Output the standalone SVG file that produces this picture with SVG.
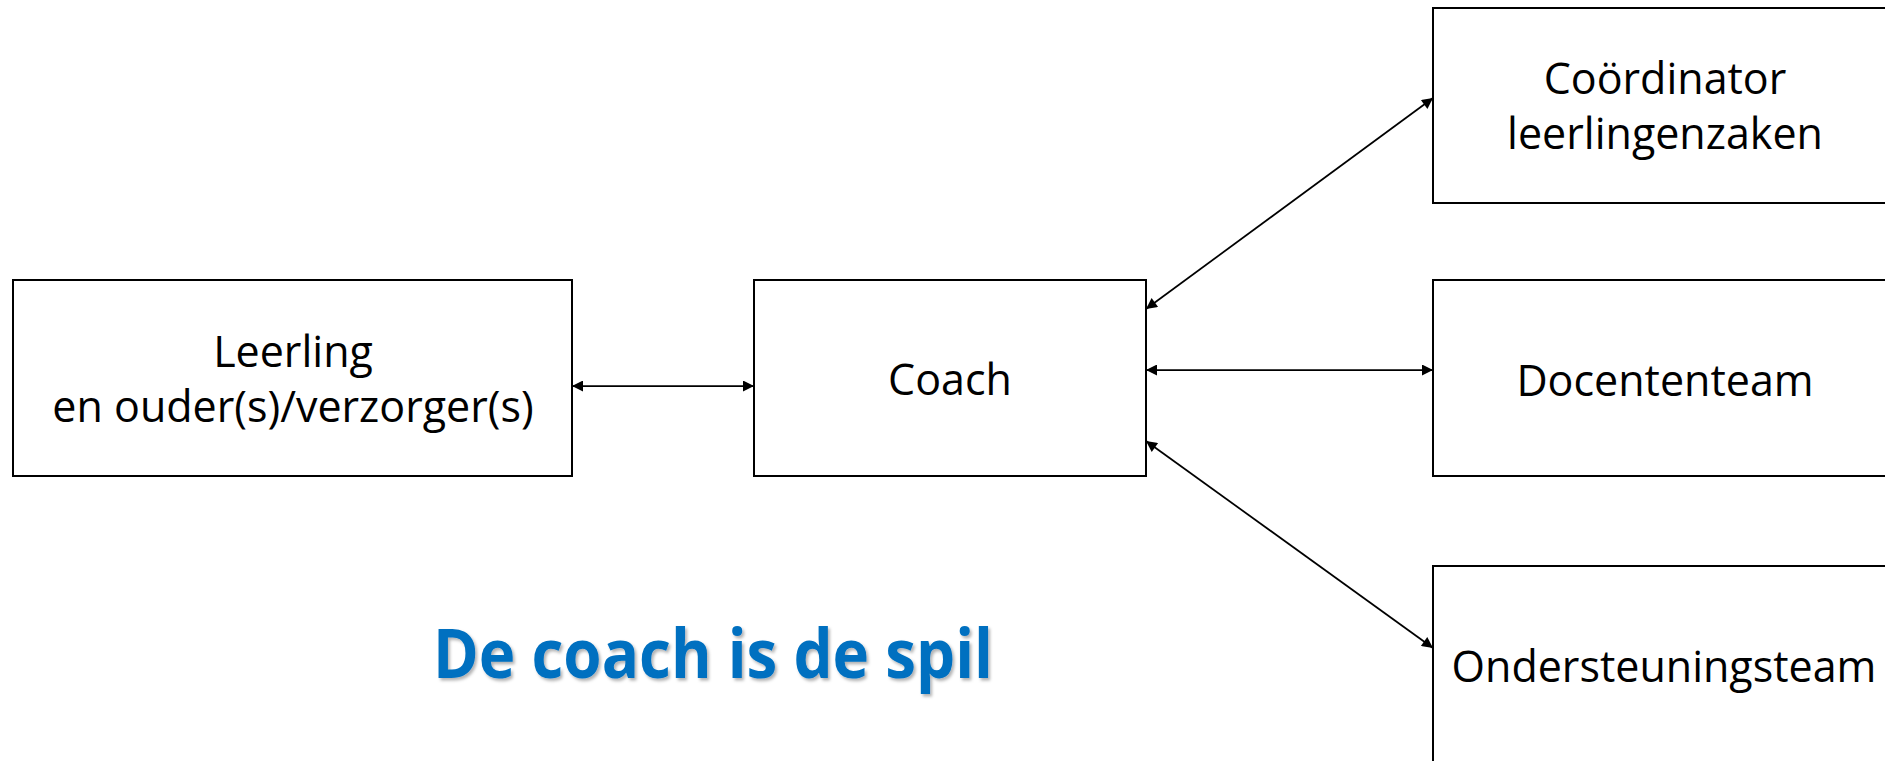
<svg xmlns="http://www.w3.org/2000/svg" width="1885" height="761" viewBox="0 0 1885 761">
  <style>
    .box { fill: #ffffff; stroke: #000000; stroke-width: 2; }
    .lbl { font-family: "Open Sans", "Noto Sans", "DejaVu Sans", sans-serif; font-size: 43px; fill: #000000; text-anchor: middle; }
    .conn { stroke: #000000; stroke-width: 1.75; fill: none; marker-start: url(#arrow); marker-end: url(#arrow); }
    .title { font-family: "Open Sans", "Noto Sans", "DejaVu Sans", sans-serif; font-size: 68px; font-weight: bold; fill: #0070C0; }
  </style>
  <defs>
    <marker id="arrow" viewBox="0 0 10 10" refX="10" refY="5" markerUnits="userSpaceOnUse" markerWidth="15" markerHeight="11" orient="auto-start-reverse">
      <path d="M0,0 L10,5 L0,10 z" fill="#000000"/>
    </marker>
    <filter id="shadow" x="-5%" y="-20%" width="110%" height="150%">
      <feDropShadow dx="2" dy="2.5" stdDeviation="1.5" flood-color="#000000" flood-opacity="0.3"/>
    </filter>
  </defs>
  <rect x="0" y="0" width="1885" height="761" fill="#ffffff"/>

  <g id="connectors">
    <line class="conn" x1="572" y1="386" x2="754" y2="386"/>
    <line class="conn" x1="1146" y1="370" x2="1433" y2="370"/>
    <line class="conn" x1="1146" y1="309" x2="1433" y2="98"/>
    <line class="conn" x1="1146" y1="441" x2="1433" y2="648"/>
  </g>

  <g id="leerling">
    <rect class="box" x="13" y="280" width="559" height="196"/>
    <text class="lbl" x="293" y="367">Leerling</text>
    <text class="lbl" x="293" y="422">en ouder(s)/verzorger(s)</text>
  </g>

  <g id="coach">
    <rect class="box" x="754" y="280" width="392" height="196"/>
    <text class="lbl" x="950" y="395">Coach</text>
  </g>

  <g id="coordinator">
    <rect class="box" x="1433" y="8" width="480" height="195"/>
    <text class="lbl" x="1665" y="94">Coördinator</text>
    <text class="lbl" x="1665" y="149">leerlingenzaken</text>
  </g>

  <g id="docententeam">
    <rect class="box" x="1433" y="280" width="480" height="196"/>
    <text class="lbl" x="1665" y="396">Docententeam</text>
  </g>

  <g id="ondersteuningsteam">
    <rect class="box" x="1433" y="566" width="480" height="240"/>
    <text class="lbl" x="1664" y="682">Ondersteuningsteam</text>
  </g>

  <g id="title">
    <text class="title" x="433" y="678" textLength="560" lengthAdjust="spacingAndGlyphs" filter="url(#shadow)">De coach is de spil</text>
  </g>
</svg>
